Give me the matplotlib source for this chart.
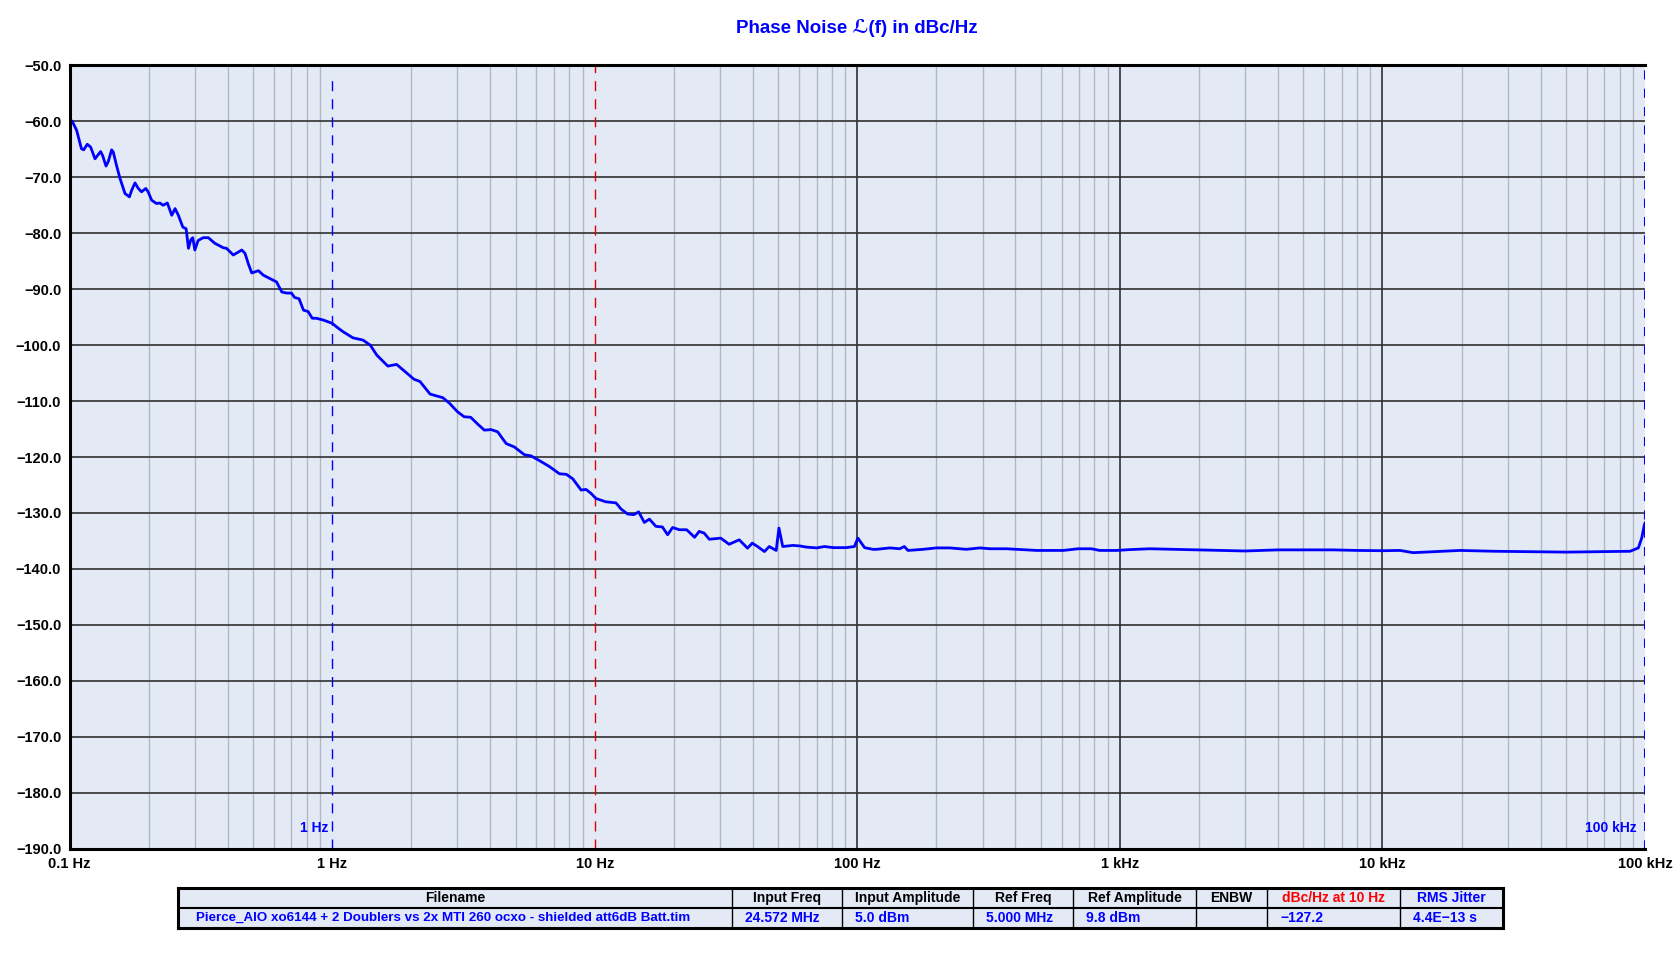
#import used libraries
import numpy as np
from matplotlib import pyplot as plt
from matplotlib.ticker import FixedLocator, NullFormatter

#data
freq_hz = [0.100, 0.1012, 0.1026, 0.1064, 0.111, 0.1132, 0.1168, 0.1203, 0.125, 0.1313,
           0.1336, 0.1377, 0.1404, 0.1446, 0.1467, 0.151, 0.1556, 0.1626, 0.169, 0.1725,
           0.1775, 0.1827, 0.188, 0.1952, 0.1992, 0.2054, 0.2144, 0.2207, 0.227, 0.2358,
           0.245, 0.2523, 0.2597, 0.27, 0.2779, 0.2837, 0.2895, 0.2946, 0.300, 0.3088,
           0.3229, 0.3377, 0.3574, 0.385, 0.396, 0.4204, 0.4528, 0.4658, 0.479, 0.494,
           0.524, 0.547, 0.5958, 0.614, 0.643, 0.671, 0.700, 0.720, 0.748, 0.7778,
           0.81, 0.84, 0.87, 0.9228, 1.0, 1.05, 1.10, 1.2, 1.31, 1.397,
           1.48, 1.63, 1.76, 1.87, 2.05, 2.16, 2.36, 2.64, 2.8, 3.0,
           3.18, 3.37, 3.58, 3.8, 4.03, 4.27, 4.6, 4.94, 5.4, 5.72,
           6.16, 6.72, 7.34, 7.8, 8.25, 8.87, 9.27, 9.68, 10.1, 11.0,
           12.05, 12.6, 13.35, 14.1, 14.7, 15.45, 16.15, 17.1, 18.1, 18.95,
           19.8, 21.0, 22.4, 24.0, 25.0, 26.1, 27.3, 30.2, 32.5, 35.5,
           38.2, 39.8, 41.7, 44.3, 46.2, 49.1, 50.3, 52.0, 56.8, 60.5,
           63.8, 70.0, 75.0, 81.0, 90.6, 97.5, 100.5, 106.6, 114.5, 118.5,
           133, 145, 151, 156, 178, 200, 225, 260, 293, 320,
           370, 482, 609, 694, 780, 837, 970, 1092, 1300, 2000,
           3000, 4000, 5000, 6500, 8000, 10000, 11660, 13100, 14500, 19700,
           26800, 50300, 87700, 94300, 97100, 99400, 100000]
pn_dbc = [-59.7, -59.8, -60.1, -61.6, -64.9, -65.1, -64.1, -64.6, -66.7, -65.4,
          -66.1, -68.0, -67.2, -65.1, -65.5, -67.9, -70.2, -72.9, -73.5, -72.3,
          -71.0, -72.0, -72.6, -72.0, -72.6, -74.1, -74.7, -74.6, -75.0, -74.6,
          -76.8, -75.6, -76.8, -78.9, -79.2, -82.7, -81.2, -80.8, -83.0, -81.3,
          -80.8, -80.8, -81.8, -82.6, -82.7, -83.9, -83.0, -83.6, -85.4, -87.1,
          -86.7, -87.5, -88.4, -88.7, -90.5, -90.7, -90.7, -91.5, -91.7, -93.75,
          -94.0, -95.2, -95.2, -95.5, -96.1, -96.9, -97.6, -98.7, -99.1, -100.0,
          -101.8, -103.75, -103.45, -104.5, -106.1, -106.5, -108.75, -109.4, -110.4, -111.9,
          -112.8, -112.9, -114.1, -115.2, -115.1, -115.5, -117.6, -118.2, -119.6, -119.8,
          -120.65, -121.7, -123.0, -123.1, -123.9, -125.9, -125.8, -126.5, -127.4, -128.0,
          -128.2, -129.3, -130.2, -130.3, -129.8, -131.7, -131.1, -132.4, -132.5, -133.9,
          -132.6, -133.0, -133.0, -134.35, -133.3, -133.6, -134.7, -134.5, -135.6, -134.8,
          -136.3, -135.4, -136.0, -136.9, -136.0, -136.7, -132.7, -136.0, -135.8, -135.9,
          -136.1, -136.25, -136.0, -136.2, -136.2, -136.0, -134.5, -136.2, -136.5, -136.5,
          -136.25, -136.4, -136.0, -136.7, -136.5, -136.25, -136.25, -136.5, -136.25, -136.4,
          -136.4, -136.7, -136.7, -136.4, -136.4, -136.7, -136.7, -136.55, -136.4, -136.6,
          -136.8, -136.6, -136.6, -136.6, -136.7, -136.75, -136.7, -137.1, -137.0, -136.7,
          -136.85, -137.0, -136.85, -136.25, -134.5, -132.1, -131.8]

x_ticks = [0.1, 1, 10, 100, 1000, 10000, 100000]
x_tick_labels = ["0.1 Hz", "1 Hz", "10 Hz", "100 Hz", "1 kHz", "10 kHz", "100 kHz"]
y_ticks = list(range(-190, -49, 10))
#frequency markers: position, colour
marker_freqs = [1, 10, 100000]
marker_colors = ['#0000ff', '#e00000', '#0000ff']

table_header = ["Filename", "Input Freq", "Input Amplitude", "Ref Freq", "Ref Amplitude",
                "ENBW", "dBc/Hz at 10 Hz", "RMS Jitter"]
table_values = ["Pierce_AIO xo6144 + 2 Doublers vs 2x MTI 260 ocxo - shielded att6dB Batt.tim",
                "24.572 MHz", "5.0 dBm", "5.000 MHz", "9.8 dBm", "", "\u2212127.2", "4.4E\u221213 s"]

#fonts and colours
narrow = ['Liberation Sans Narrow', 'Liberation Sans', 'DejaVu Sans']
plt.rcParams['font.family'] = narrow
bg = '#e3e9f5'
blue = '#0000ff'

#make picture and layout
fig = plt.figure(figsize=(16.8, 9.67), dpi=100)
ax = fig.add_axes([0.0414, 0.1224, 0.9378, 0.81])
ax.set_facecolor(bg)
ax.set_xscale('log')
ax.set_xlim(0.1, 1e5)
ax.set_ylim(-190, -50)

#grid lines
minor = [m * 10.0 ** d for d in range(-1, 5) for m in range(2, 10)]
ax.xaxis.set_minor_locator(FixedLocator(minor))
ax.xaxis.set_minor_formatter(NullFormatter())
ax.set_xticks(x_ticks)
ax.set_xticklabels(x_tick_labels)
ax.set_yticks(y_ticks)
ax.set_yticklabels([("%.1f" % v).replace("-", "\u2212") for v in y_ticks])
ax.grid(True, which='minor', axis='x', color='#b0b8c4', lw=1)
ax.grid(True, which='major', axis='y', color='#303030', lw=1.2)
#major decade lines, except where a marker line sits
for f in x_ticks:
    if f not in marker_freqs:
        ax.axvline(f, color='#303030', lw=1.2, zorder=0.5)
ax.set_axisbelow(True)
ax.tick_params(which='both', length=0, pad=6, labelsize=10.5)
for lab in ax.get_xticklabels() + ax.get_yticklabels():
    lab.set_fontweight('bold')
for side in ['left', 'bottom', 'top']:
    ax.spines[side].set_linewidth(2.2)
ax.spines['right'].set_visible(False)

#marker lines
ax.axvline(marker_freqs[0], ymax=0.99, color=marker_colors[0], lw=1, ls=(0, (7.2, 5.8)))
ax.axvline(marker_freqs[1], color=marker_colors[1], lw=1, ls=(0, (7.2, 5.8)))
ax.axvline(marker_freqs[2], color=marker_colors[2], lw=2.2, ls=(0, (3, 3)))
ax.text(0.97, -187.5, "1 Hz", color=blue, fontsize=10, fontweight='bold', ha='right', va='bottom')
ax.text(0.93e5, -187.5, "100 kHz", color=blue, fontsize=10, fontweight='bold', ha='right', va='bottom')

#plot phase noise
ax.plot(freq_hz, pn_dbc, color=blue, lw=2)

#title
fig.text(0.5103, 0.971, "Phase Noise \u2112(f) in dBc/Hz", color=blue, fontsize=13.5,
         fontweight='bold', ha='center', va='center', family=narrow)

#table below the plot
widths = [517, 103, 122, 94, 114, 67, 124, 96]
tax = fig.add_axes([0.1059, 0.0404, 0.7887, 0.0411])
tax.set_xlim(0, sum(widths))
tax.set_ylim(0, 2)
tax.set_facecolor(bg)
tax.set_xticks([])
tax.set_yticks([])
for s in tax.spines.values():
    s.set_linewidth(2.2)
tax.axhline(1, color='black', lw=1.5)
head_colors = ['black'] * 6 + ['#ff0000', blue]
x0 = 0
for i in range(len(widths)):
    if i > 0:
        tax.axvline(x0, color='black', lw=1)
    tax.text(x0 + widths[i] / 2, 1.5, table_header[i], color=head_colors[i], fontsize=10,
             fontweight='bold', ha='center', va='center')
    pad = 17 if i == 0 else 12
    fs = 9.6 if i == 0 else 10
    tax.text(x0 + pad, 0.5, table_values[i], color=blue, fontsize=fs,
             fontweight='bold', ha='left', va='center')
    x0 += widths[i]

#save figure
plt.savefig("out.png")
plt.close()
